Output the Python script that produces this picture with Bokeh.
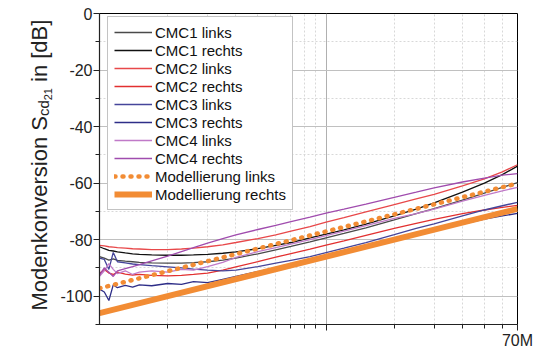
import math
from bokeh.plotting import figure
from bokeh.layouts import row
from bokeh.models import (Range1d, FixedTicker, CustomJSTickFormatter, Legend, LegendItem, Label)
from bokeh.embed import file_html
from bokeh.resources import INLINE

# ---- data (frequency in MHz, values in dB) ----
freq_mhz = [1.0, 1.05, 1.1, 1.15, 1.2, 1.3, 1.4, 1.5, 1.7, 2.0, 2.3, 2.6, 3.0, 3.5, 4.0,
            5.0, 6.0, 7.0, 8.5, 10, 12, 15, 20, 25, 30, 40, 50, 60, 70]

cmc1_links = [-86.0, -86.5, -87.2, -86.8, -87.3, -87.6, -87.8, -88.0, -88.2, -88.3, -88.3, -88.1, -87.8, -87.2, -86.5,
              -85.0, -83.6, -82.4, -80.8, -79.4, -77.8, -75.8, -73.0, -70.8, -69.0, -66.0, -63.5, -61.5, -59.8]
cmc1_rechts = [-82.5, -83.2, -83.8, -84.0, -84.3, -84.7, -85.0, -85.2, -85.4, -85.5, -85.5, -85.4, -85.2, -84.8, -84.3,
               -83.2, -82.0, -81.0, -79.4, -78.0, -76.5, -74.5, -71.6, -69.2, -67.0, -63.2, -60.0, -57.0, -54.0]
cmc2_links = [-82.0, -82.2, -82.5, -82.6, -82.8, -83.0, -83.2, -83.3, -83.5, -83.5, -83.3, -83.0, -82.5, -81.8, -81.0,
              -79.6, -78.3, -77.0, -75.4, -73.8, -72.2, -70.2, -67.6, -65.6, -64.0, -61.0, -58.5, -56.0, -53.5]
cmc2_rechts = [-92.0, -90.5, -91.8, -92.3, -91.5, -92.2, -92.5, -92.3, -92.6, -92.8, -92.6, -92.3, -91.8, -90.8, -89.6,
               -87.8, -86.2, -84.9, -83.3, -81.9, -80.4, -78.5, -76.0, -74.2, -72.8, -70.8, -69.5, -68.6, -67.9]
cmc3_links = [-86.5, -87.0, -90.5, -84.5, -87.8, -88.2, -88.6, -88.8, -89.2, -89.6, -90.0, -90.4, -90.8, -91.0, -90.8,
              -89.5, -88.3, -87.3, -86.0, -84.6, -83.0, -81.0, -78.2, -76.0, -74.4, -71.6, -69.5, -68.0, -66.8]
cmc3_rechts = [-97.5, -98.5, -101.5, -96.0, -97.0, -96.2, -96.8, -96.0, -96.3, -95.5, -95.8, -94.8, -95.2, -94.0, -93.0,
               -91.3, -90.0, -89.0, -87.6, -86.3, -84.8, -82.9, -80.4, -78.5, -76.9, -74.5, -72.7, -71.6, -70.7]
cmc4_links = [-93.0, -91.0, -88.5, -90.5, -92.0, -91.0, -92.3, -91.5, -91.0, -91.5, -90.5, -90.8, -89.5, -88.0, -86.3,
              -84.2, -82.8, -81.6, -80.0, -78.6, -77.0, -75.0, -72.5, -70.8, -69.2, -66.4, -64.3, -62.7, -61.5]
cmc4_rechts = [-92.5, -90.0, -91.5, -93.0, -91.0, -90.2, -89.5, -88.8, -87.5, -85.8, -84.2, -82.8, -81.2, -79.6, -78.3,
               -76.4, -74.9, -73.6, -72.0, -70.6, -69.2, -67.4, -65.0, -63.2, -61.7, -59.6, -58.2, -57.2, -56.6]

model_freq_mhz = [1.0, 70.0]
model_links = [-97.2, -60.1]
model_rechts = [-106.0, -69.1]

y_major = [0, -20, -40, -60, -80, -100]
y_minor = [-10, -30, -50, -70, -90, -110]
x_major_mhz = [10, 70]
x_minor_mhz = [2, 3, 4, 5, 6, 7, 8, 9, 20, 30, 40, 50, 60]

FONT = "Liberation Sans"
TXT = "#222222"

f_hz = [f * 1e6 for f in freq_mhz]
mf_hz = [f * 1e6 for f in model_freq_mhz]

H = 350
LEFT_W = 54

p = figure(x_axis_type="log", x_range=Range1d(1e6, 7e7), y_range=Range1d(-110, 0),
           frame_width=418, frame_height=311,
           min_border_left=45, min_border_right=20, min_border_top=13, min_border_bottom=26,
           output_backend="svg", toolbar_location=None)
p.outline_line_color = "black"
p.outline_line_width = 1
p.background_fill_color = "white"

# axes
p.xaxis.ticker = FixedTicker(ticks=[f * 1e6 for f in x_major_mhz], minor_ticks=[f * 1e6 for f in x_minor_mhz])
p.xaxis.formatter = CustomJSTickFormatter(code="return Math.abs(tick - 7e7) < 1 ? '70M' : '';")
p.yaxis.ticker = FixedTicker(ticks=y_major, minor_ticks=y_minor)
p.yaxis.formatter = CustomJSTickFormatter(code="return tick.toString();")
for ax in (p.xaxis[0], p.yaxis[0]):
    ax.axis_line_color = TXT
    ax.axis_line_width = 1.2
    ax.major_tick_line_color = TXT
    ax.minor_tick_line_color = TXT
    ax.major_tick_in = 0
    ax.major_tick_out = 6
    ax.minor_tick_in = 0
    ax.minor_tick_out = 4
    ax.major_label_text_font = FONT
    ax.major_label_text_font_size = "16px"
    ax.major_label_text_color = TXT
    ax.major_label_standoff = 1
p.yaxis.axis_label = None

# grid
p.xgrid.grid_line_color = "#b0b0b0"
p.xgrid.minor_grid_line_color = "#d8d8d8"
p.xgrid.minor_grid_line_dash = "2 2"
p.ygrid.grid_line_color = "#c0c0c0"
p.ygrid.minor_grid_line_color = "#d8d8d8"
p.ygrid.minor_grid_line_dash = "2 2"

series = [
    ("CMC1 links", cmc1_links, "#4a4a4a"),
    ("CMC1 rechts", cmc1_rechts, "#111111"),
    ("CMC2 links", cmc2_links, "#e8484a"),
    ("CMC2 rechts", cmc2_rechts, "#e23030"),
    ("CMC3 links", cmc3_links, "#45459a"),
    ("CMC3 rechts", cmc3_rechts, "#2e2e88"),
    ("CMC4 links", cmc4_links, "#c07ac8"),
    ("CMC4 rechts", cmc4_rechts, "#a04cae"),
]
items = []
for name, vals, col in series:
    r = p.line(f_hz, vals, line_color=col, line_width=1.3)
    items.append(LegendItem(label=name, renderers=[r]))

ORANGE = "#f28c34"
r_ml = p.line(mf_hz, model_links, line_color=ORANGE, line_width=4.5, line_dash="1 7", line_cap="round")
r_mr = p.line(mf_hz, model_rechts, line_color=ORANGE, line_width=6)
items.append(LegendItem(label="Modellierung links", renderers=[r_ml]))
items.append(LegendItem(label="Modellierung rechts", renderers=[r_mr]))

legend = Legend(items=items, location=(8, 311 - 5 - 192))
legend.label_text_font = FONT
legend.label_text_font_size = "15px"
legend.label_text_color = "#111111"
legend.glyph_width = 38
legend.glyph_height = 18
legend.label_height = 18
legend.spacing = 0
legend.padding = 6
legend.margin = 0
legend.label_standoff = 3
legend.border_line_color = "#888888"
legend.border_line_width = 1
legend.background_fill_color = "white"
legend.background_fill_alpha = 1
p.add_layout(legend)

# left strip holding the rotated y-axis title (with subscripts)
q = figure(width=LEFT_W, height=H, x_range=Range1d(0, 1), y_range=Range1d(0, 1), title=None,
           min_border_left=0, min_border_right=0, min_border_top=0, min_border_bottom=0,
           x_axis_location=None, y_axis_location=None,
           output_backend="svg", toolbar_location=None)
q.grid.visible = False
q.outline_line_color = None

ang = math.pi / 2
base_x = 39
y0 = 13
parts = [
    ("Modenkonversion S", "22px", 0, 194.4),
    ("cd", "15px", 4, 15.8),
    ("21", "11px", 8, 12.2 + 6.1),
    ("in [dB]", "22px", 0, 62.3),
]
yy = y0
for txt, fs, dx, w in parts:
    q.add_layout(Label(x=base_x + dx, y=yy, x_units="screen", y_units="screen", angle=ang,
                       text=txt, text_font=FONT, text_font_size=fs, text_color=TXT,
                       text_baseline="alphabetic", text_align="left"))
    yy += w

layout = row(q, p, spacing=0)
open("out.html", "w").write(file_html(layout, INLINE))
